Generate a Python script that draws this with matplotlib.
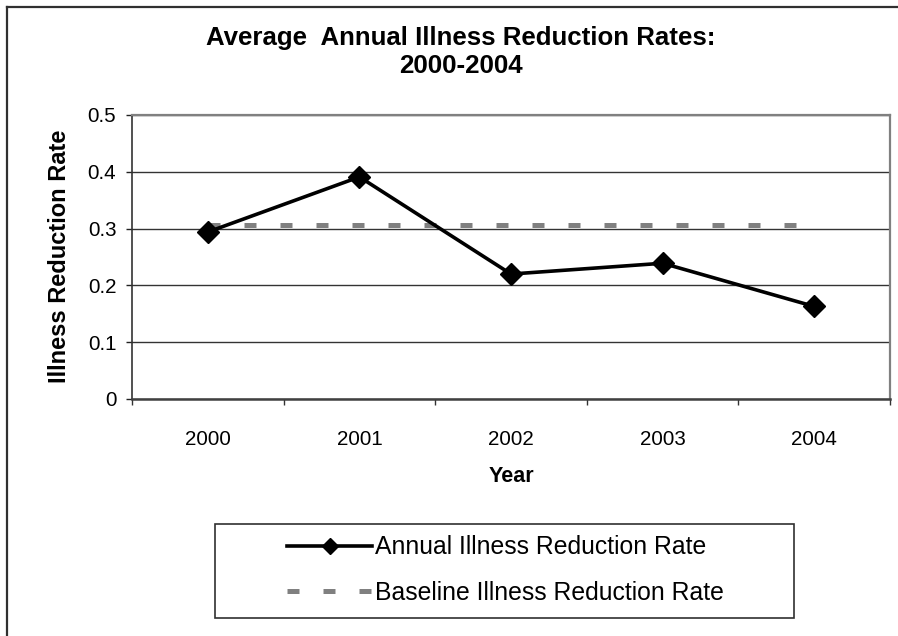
import matplotlib
matplotlib.use("Agg")
import matplotlib.pyplot as plt
from matplotlib.lines import Line2D
from matplotlib.patches import Rectangle

plt.rcParams['font.family'] = ['Liberation Sans', 'DejaVu Sans']

years = ['2000', '2001', '2002', '2003', '2004']
annual_rate = [0.294, 0.391, 0.220, 0.239, 0.163]
baseline_rate = [0.306, 0.306, 0.306, 0.306, 0.306]
y_ticks = [0, 0.1, 0.2, 0.3, 0.4, 0.5]
y_tick_labels = ['0', '0.1', '0.2', '0.3', '0.4', '0.5']

W, H = 898, 636
fig = plt.figure(figsize=(W / 100, H / 100), dpi=100)

# outer chart frame (left and top edges visible)
fig.add_artist(Line2D([7 / W, 7 / W], [0, 1 - 7 / H], transform=fig.transFigure,
                      color='#303030', lw=1.6))
fig.add_artist(Line2D([7 / W, 1], [1 - 7 / H, 1 - 7 / H], transform=fig.transFigure,
                      color='#303030', lw=1.6))

ax = fig.add_axes([132 / W, 1 - 399 / H, 758 / W, 284 / H])
x = list(range(len(years)))

ax.plot(x, baseline_rate, color='#808080', lw=3.6, dashes=(12 / 5, 24 / 5),
        solid_capstyle='butt', dash_capstyle='butt', zorder=3,
        label='Baseline Illness Reduction Rate')
ax.plot(x, annual_rate, color='black', lw=2.6, marker='D', ms=11.2,
        markerfacecolor='black', markeredgecolor='black', zorder=4,
        label='Annual Illness Reduction Rate')

ax.set_xlim(-0.5, len(years) - 0.5)
ax.set_ylim(0, 0.5)
ax.set_yticks(y_ticks)
ax.set_yticklabels(y_tick_labels)
ax.set_xticks(x)
ax.set_xticklabels(years)
ax.set_xticks([i - 0.5 for i in range(len(years) + 1)], minor=True)

ax.tick_params(axis='y', which='major', length=6 * 0.72, width=1, direction='out',
               pad=7, labelsize=14.8, colors='#222222', labelcolor='black')
ax.tick_params(axis='x', which='major', length=0, pad=22, labelsize=14.8,
               labelcolor='black')
ax.tick_params(axis='x', which='minor', length=6 * 0.72, width=1, direction='out',
               colors='#333333')

ax.grid(axis='y', color='#333333', lw=1.0, zorder=1)
ax.set_axisbelow(True)

for side in ['top', 'right']:
    ax.spines[side].set_color('#808080')
    ax.spines[side].set_linewidth(1.6)
ax.spines['left'].set_color('#333333')
ax.spines['left'].set_linewidth(1.2)
ax.spines['bottom'].set_color('#404040')
ax.spines['bottom'].set_linewidth(1.8)

ax.set_xlabel('Year', fontsize=15.5, fontweight='bold')
ax.xaxis.set_label_coords(0.5, -(476 - 399) / 284, transform=ax.transAxes)
ax.xaxis.label.set_va('center')
ax.set_ylabel('Illness Reduction Rate', fontsize=17, fontweight='bold')
ax.yaxis.set_label_coords(-(132 - 60) / 758, 0.5 - (256 - 257) / 284)
ax.yaxis.label.set_va('center')

fig.text(461 / W, 1 - 38 / H, 'Average  Annual Illness Reduction Rates:',
         ha='center', va='center', fontsize=18.6, fontweight='bold')
fig.text(461 / W, 1 - 66 / H, '2000-2004',
         ha='center', va='center', fontsize=18.6, fontweight='bold')

# legend frame and entries
fig.add_artist(Rectangle((215 / W, 1 - 618 / H), (794 - 215) / W, (618 - 524) / H,
                         transform=fig.transFigure, fill=False,
                         edgecolor='#303030', lw=1.2))
handles, labels = ax.get_legend_handles_labels()
leg = fig.legend(handles[::-1], labels[::-1], loc='center left',
                 bbox_to_anchor=(287 / W, 1 - 570 / H), frameon=False,
                 fontsize=17.8, handlelength=3.45, handletextpad=0.12,
                 borderpad=0, borderaxespad=0, labelspacing=0.85,
                 markerscale=0.72)

fig.savefig('out.png', dpi=100)
